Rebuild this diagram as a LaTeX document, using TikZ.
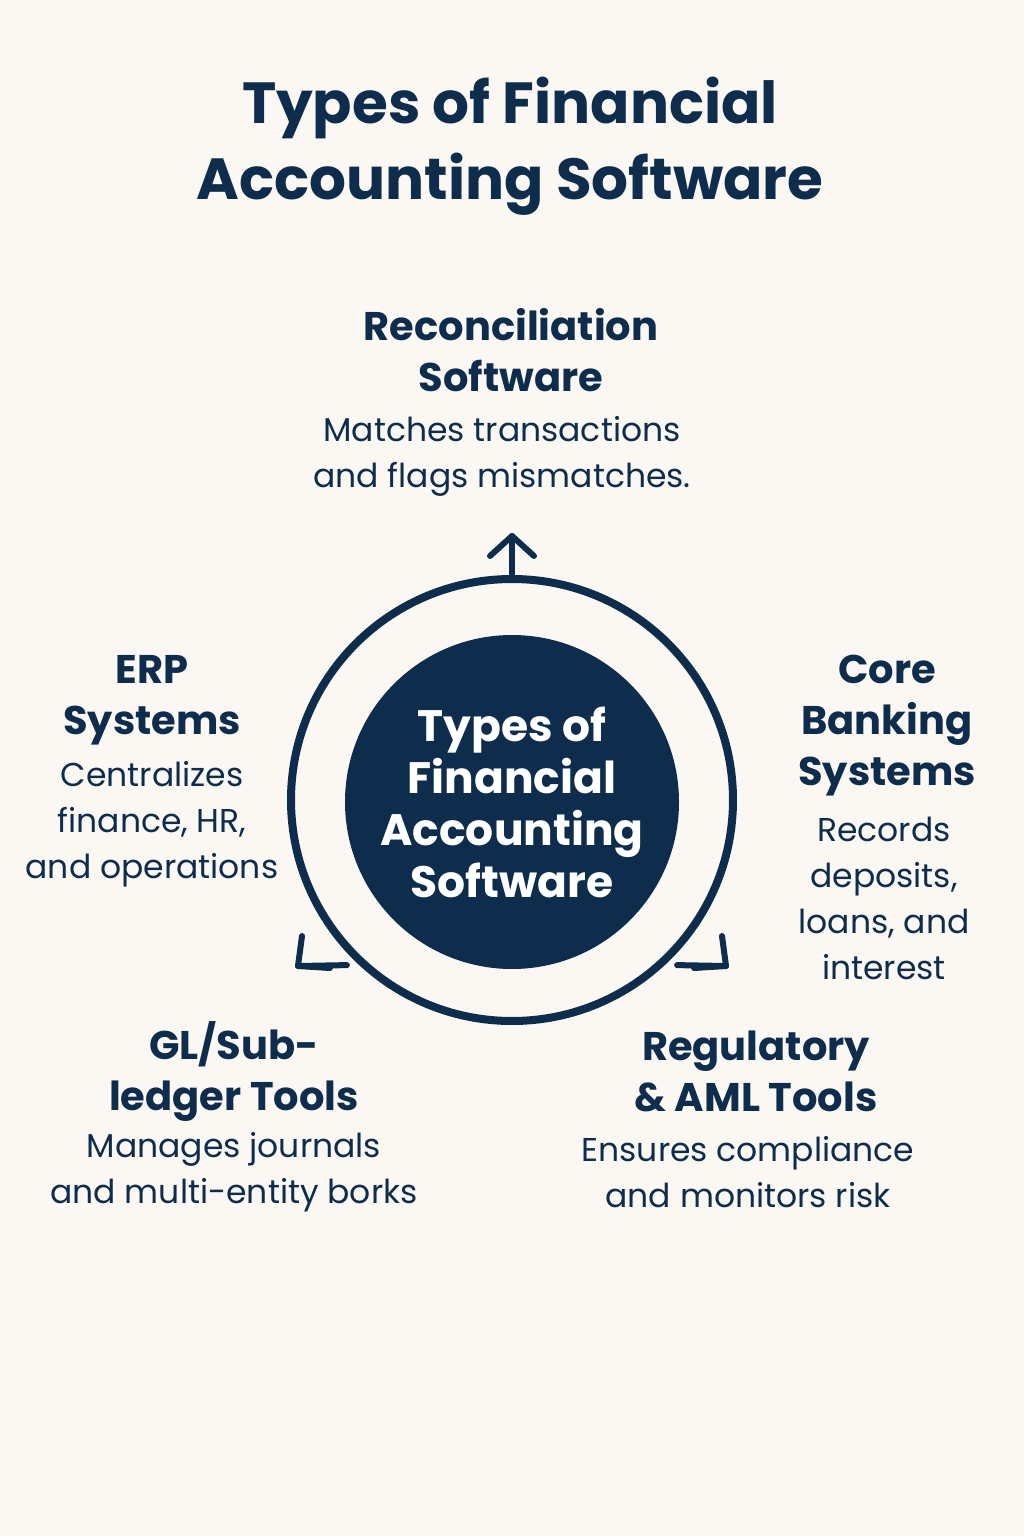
\documentclass[tikz,border=0pt]{standalone}
\usepackage{fontspec}
\setmainfont{Poppins}
\definecolor{navy}{HTML}{0E2D4C}
\definecolor{bg}{HTML}{FBF8F3}
\begin{document}
\begin{tikzpicture}[x=1pt,y=-1pt,
  head/.style={text=navy,font=\fontsize{40}{51}\selectfont\bfseries,align=center},
  body/.style={text=navy,font=\fontsize{33}{46}\selectfont,align=center},
  arr/.style={draw=navy,line width=6pt,line cap=round,line join=round}]
\fill[bg] (0,0) rectangle (1024,1536);
\node[text=navy,font=\fontsize{58}{76}\selectfont\bfseries,align=center] (title) at (510,146) {Types of Financial\\Accounting Software};
\node[circle,draw=navy,line width=8pt,fill=bg,minimum size=442pt] (ring) at (512,800) {};
\node[circle,fill=navy,minimum size=334pt,text=white,font=\fontsize{44}{52}\selectfont\bfseries,align=center] (core) at (512,802) {Types of\\Financial\\Accounting\\Software};
% arrows
\coordinate (tUp) at (512,536);
\draw[arr] (ring.north) -- (tUp);
\draw[arr] (490,556) -- (tUp) -- (534,556);
\coordinate (tL) at (298,966);
\draw[arr] (ring.south west) ++(-6,6) -- (tL);
\draw[arr] (302,936) -- (tL) -- (330,968);
\coordinate (tR) at (726,966);
\draw[arr] (ring.south east) ++(6,6) -- (tR);
\draw[arr] (722,936) -- (tR) -- (694,968);
% labels
\node[head] (h1) at (511,350) {Reconciliation\\Software};
\node[body] (b1) at (502,456) {Matches transactions\\and flags mismatches.};
\node[head] (h2) at (152,700) {ERP\\Systems};
\node[body] (b2) at (152,824) {Centralizes\\finance, HR,\\and operations};
\node[head] (h3) at (887,726) {Core\\Banking\\Systems};
\node[body] (b3) at (884,898) {Records\\deposits,\\loans, and\\interest};
\node[head] (h4) at (234,1071) {GL/Sub-\\ledger Tools};
\node[body] (b4) at (234,1172) {Manages journals\\and multi-entity borks};
\node[head] (h5) at (756,1071) {Regulatory\\\& AML Tools};
\node[body] (b5) at (748,1172) {Ensures compliance\\and monitors risk};
\end{tikzpicture}
\end{document}
